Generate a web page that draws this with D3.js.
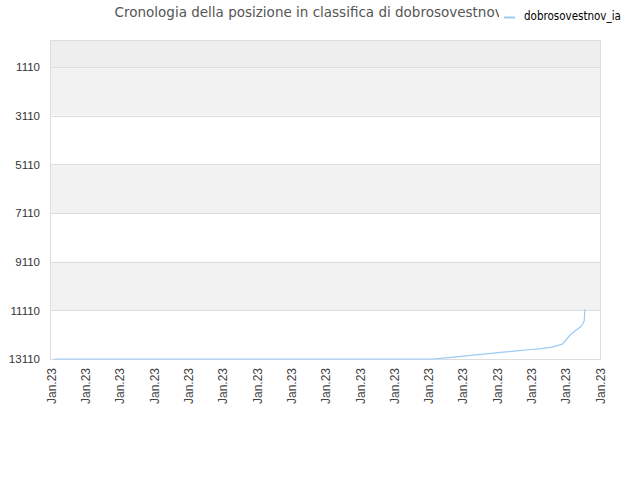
<!DOCTYPE html>
<html>
<head>
<meta charset="utf-8">
<script src="https://cdn.jsdelivr.net/npm/d3@7"></script>
<style>
  body { margin: 0; background: #fff; }
  svg { font-family: "DejaVu Sans", sans-serif; }
</style>
</head>
<body>
<div id="chart"></div>
<script>
var title = "Cronologia della posizione in classifica di dobrosovestnov_ia";
var seriesName = "dobrosovestnov_ia";

// x position in tick units (0..16), rank value
var days = [0.1, 11.1, 11.5, 11.9, 12.3, 12.7, 13.1, 13.5, 13.9, 14.3, 14.6, 14.9, 15.13, 15.27, 15.42, 15.5, 15.54, 15.56];
var ranks = [13110, 13110, 13060, 13010, 12950, 12900, 12840, 12790, 12730, 12680, 12620, 12500, 12125, 11960, 11808, 11672, 11537, 11056];

var yTicks = [1110, 3110, 5110, 7110, 9110, 11110, 13110];
var xTicks = d3.range(0, 17);
var xTickLabel = "Jan.23";

var width = 640, height = 480;
var plotLeft = 51, plotRight = 600, plotTop = 40, plotBottom = 359;

var svg = d3.select("#chart").append("svg")
  .attr("width", width)
  .attr("height", height);

var x = d3.scaleLinear().domain([0, 16]).range([plotLeft, plotRight]);
var y = d3.scaleLinear().domain([0, 13110]).range([plotTop, plotBottom]);

/* bands */
var bandEdges = [0].concat(yTicks);
var bandColors = ["#eeeeee", "#f2f2f2", "#ffffff", "#f2f2f2", "#ffffff", "#f2f2f2", "#ffffff"];
svg.append("g").selectAll("rect")
  .data(d3.range(bandEdges.length - 1))
  .enter().append("rect")
  .attr("x", plotLeft)
  .attr("width", plotRight - plotLeft)
  .attr("y", (i) => y(bandEdges[i]))
  .attr("height", (i) => y(bandEdges[i + 1]) - y(bandEdges[i]))
  .attr("fill", (i) => bandColors[i]);

/* grid */
svg.append("g").selectAll("line")
  .data(yTicks)
  .enter().append("line")
  .attr("x1", plotLeft).attr("x2", plotRight)
  .attr("y1", (d) => Math.round(y(d)) + 0.5)
  .attr("y2", (d) => Math.round(y(d)) + 0.5)
  .attr("stroke", "#dddddd");

/* frame */
svg.append("rect")
  .attr("x", plotLeft - 0.5).attr("y", plotTop + 0.5)
  .attr("width", plotRight - plotLeft + 1).attr("height", plotBottom - plotTop)
  .attr("fill", "none")
  .attr("stroke", "#dddddd");

/* axes */
var yAxis = d3.axisLeft(y).tickValues(yTicks).tickSize(0).tickPadding(11).tickFormat(d3.format("d"));
svg.append("g")
  .attr("transform", `translate(${plotLeft}, 0)`)
  .call(yAxis)
  .call((g) => g.select(".domain").remove())
  .selectAll("text")
  .attr("fill", "#333")
  .style("font-size", "11.5px");

var xAxis = d3.axisBottom(x).tickValues(xTicks).tickSize(0).tickFormat(() => xTickLabel);
svg.append("g")
  .attr("transform", `translate(0, ${plotBottom})`)
  .call(xAxis)
  .call((g) => g.select(".domain").remove())
  .selectAll("text")
  .attr("fill", "#444")
  .style("font-size", "12px")
  .attr("text-anchor", "end")
  .attr("dy", "0.35em")
  .attr("transform", "translate(0, 9) rotate(-90)")
  .attr("x", 0)
  .attr("y", 0);

/* line */
var points = days.map((d, i) => ({ t: d, rank: ranks[i] }));
var line = d3.line()
  .x((d) => x(d.t))
  .y((d) => y(d.rank));

svg.append("path")
  .datum(points)
  .attr("d", line)
  .attr("fill", "none")
  .attr("stroke", "#9ccaf5")
  .attr("stroke-width", 1.2);

/* title, centred, hidden behind the legend */
svg.append("clipPath").attr("id", "titleClip")
  .append("rect").attr("x", 0).attr("y", 0).attr("width", 499).attr("height", 40);

svg.append("text")
  .attr("clip-path", "url(#titleClip)")
  .attr("x", width / 2 - 2)
  .attr("y", 17)
  .attr("text-anchor", "middle")
  .attr("fill", "#555")
  .style("font-size", "13.5px")
  .text(title);

/* legend */
svg.append("line")
  .attr("x1", 504).attr("x2", 515)
  .attr("y1", 17.5).attr("y2", 17.5)
  .attr("stroke", "#9ccaf5")
  .attr("stroke-width", 2);

svg.append("text")
  .attr("x", 524)
  .attr("y", 20)
  .attr("fill", "#000")
  .style("font-family", "'DejaVu Sans Condensed', 'DejaVu Sans', sans-serif")
  .style("font-size", "11.5px")
  .text(seriesName);
</script>
</body>
</html>
